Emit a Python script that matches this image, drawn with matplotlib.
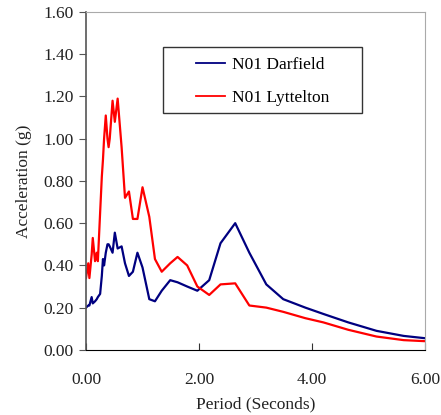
import numpy as np
import matplotlib
matplotlib.use("Agg")
import matplotlib.pyplot as plt
from matplotlib.patches import Rectangle

# period (s) and spectral acceleration (g)
period = [0.0, 0.04, 0.06, 0.10, 0.12, 0.16, 0.19, 0.21, 0.25, 0.28, 0.30,
          0.32, 0.35, 0.38, 0.40, 0.42, 0.47, 0.51, 0.56, 0.63, 0.69, 0.76,
          0.83, 0.91, 1.00, 1.12, 1.22, 1.34, 1.49, 1.62, 1.79, 1.97, 2.18,
          2.38, 2.64, 2.89, 3.19, 3.49, 3.88, 4.20, 4.64, 5.14, 5.62, 6.00]
darfield = [0.20, 0.21, 0.21, 0.25, 0.22, 0.23, 0.24, 0.25, 0.265, 0.35, 0.43,
            0.40, 0.46, 0.50, 0.50, 0.49, 0.46, 0.555, 0.48, 0.49, 0.41, 0.35,
            0.37, 0.46, 0.39, 0.24, 0.23, 0.28, 0.33, 0.32, 0.30, 0.28, 0.33,
            0.505, 0.60, 0.46, 0.31, 0.24, 0.20, 0.17, 0.13, 0.09, 0.066, 0.055]
lyttelton = [0.34, 0.41, 0.34, 0.45, 0.53, 0.42, 0.46, 0.42, 0.65, 0.82, 0.90,
             1.00, 1.11, 1.00, 0.96, 1.00, 1.18, 1.08, 1.19, 0.96, 0.72, 0.75,
             0.62, 0.62, 0.77, 0.63, 0.43, 0.37, 0.41, 0.44, 0.40, 0.30, 0.26,
             0.31, 0.315, 0.21, 0.20, 0.18, 0.15, 0.13, 0.095, 0.063, 0.046, 0.041]

plt.rcParams['font.family'] = ['Liberation Serif', 'DejaVu Serif']

fig = plt.figure(figsize=(4.41, 4.15), dpi=100)
ax = fig.add_axes([0.195, 0.157, 0.769, 0.814])

ax.plot(period, darfield, color='#000080', lw=1.6, label='N01 Darfield')
ax.plot(period, lyttelton, color='#ff0000', lw=1.6, label='N01 Lyttelton')

ax.set_xlim(0, 6)
ax.set_ylim(0, 1.6)
ax.set_xticks(np.arange(0, 6.01, 2))
ax.set_yticks(np.arange(0, 1.61, 0.2))
ax.xaxis.set_major_formatter(matplotlib.ticker.FormatStrFormatter('%.2f'))
ax.yaxis.set_major_formatter(matplotlib.ticker.FormatStrFormatter('%.2f'))
ax.tick_params(axis='x', direction='in', length=5, labelsize=12.5, labelcolor='#222222',
               color='#333333', pad=16)
ax.tick_params(axis='y', direction='out', length=5, labelsize=12.5, labelcolor='#222222',
               color='#555555', pad=4)

ax.spines['left'].set_color('#555555')
ax.spines['left'].set_linewidth(1.2)
ax.spines['bottom'].set_color('black')
for s in ['top', 'right']:
    ax.spines[s].set_color('#aaaaaa')

ax.set_xlabel('Period (Seconds)', fontsize=12.5, color='#222222', labelpad=6)
ax.set_ylabel('Acceleration (g)', fontsize=12.5, color='#222222', labelpad=8)

# legend box drawn separately so the padding can match
ax.add_patch(Rectangle((0.227, 0.701), 0.587, 0.195, transform=ax.transAxes,
                       fill=True, facecolor='white', edgecolor='#333333', lw=1.0, zorder=4))
leg = ax.legend(loc='center', bbox_to_anchor=(0.521, 0.795), fontsize=12.5,
                frameon=False, handlelength=1.7, handletextpad=0.4,
                labelspacing=1.0)
leg.set_zorder(5)
for line in leg.get_lines():
    line.set_linewidth(1.3)

fig.savefig('out.png', dpi=100)
